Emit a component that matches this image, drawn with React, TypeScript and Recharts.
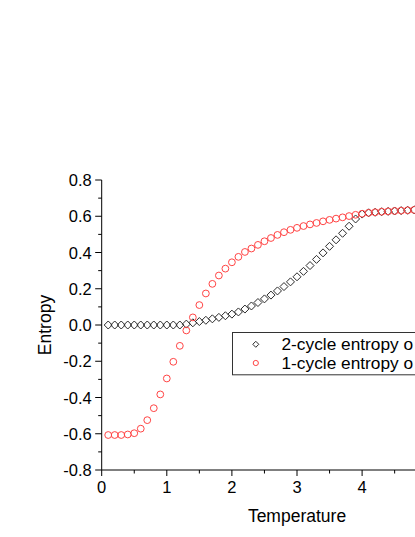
import React from 'react';
import { ScatterChart, Scatter, XAxis, YAxis } from 'recharts';

const temperature = [
  0.1, 0.2, 0.3, 0.4, 0.5, 0.6, 0.7, 0.8, 0.9, 1.0,
  1.1, 1.2, 1.3, 1.4, 1.5, 1.6, 1.7, 1.8, 1.9, 2.0,
  2.1, 2.2, 2.3, 2.4, 2.5, 2.6, 2.7, 2.8, 2.9, 3.0,
  3.1, 3.2, 3.3, 3.4, 3.5, 3.6, 3.7, 3.8, 3.9, 4.0,
  4.1, 4.2, 4.3, 4.4, 4.5, 4.6, 4.7, 4.8, 4.9,
];

const twoCycleEntropy = [
  0, 0, 0, 0, 0, 0, 0, 0, 0, 0,
  0, 0, 0.005, 0.012, 0.019, 0.026, 0.034, 0.042, 0.051, 0.06,
  0.072, 0.088, 0.105, 0.124, 0.144, 0.165, 0.188, 0.212, 0.238, 0.266,
  0.296, 0.328, 0.362, 0.398, 0.434, 0.47, 0.506, 0.545, 0.585, 0.612,
  0.619, 0.622, 0.625, 0.627, 0.629, 0.631, 0.633, 0.635, 0.636,
];

const oneCycleEntropy = [
  -0.607, -0.607, -0.607, -0.604, -0.597, -0.572, -0.525, -0.459, -0.383, -0.295,
  -0.203, -0.115, -0.03, 0.042, 0.11, 0.174, 0.227, 0.273, 0.311, 0.346,
  0.376, 0.403, 0.422, 0.442, 0.462, 0.48, 0.497, 0.512, 0.525, 0.536,
  0.546, 0.555, 0.563, 0.572, 0.58, 0.587, 0.594, 0.601, 0.608, 0.614,
  0.619, 0.622, 0.625, 0.627, 0.629, 0.631, 0.633, 0.635, 0.636,
];

const xTicks = [0, 0.5, 1, 1.5, 2, 2.5, 3, 3.5, 4, 4.5];
const yTicks = [-0.8, -0.7, -0.6, -0.5, -0.4, -0.3, -0.2, -0.1, 0, 0.1, 0.2, 0.3, 0.4, 0.5, 0.6, 0.7, 0.8];
const seriesNames = ['2-cycle entropy o', '1-cycle entropy o'];
const xTitle = 'Temperature';
const yTitle = 'Entropy';

const twoCycleData = temperature.map((t, i) => ({ t, s: twoCycleEntropy[i] }));
const oneCycleData = temperature.map((t, i) => ({ t, s: oneCycleEntropy[i] }));

const FONT = '"Liberation Sans", Arial, sans-serif';
const DIAMOND_COLOR = '#2a2a2a';
const CIRCLE_COLOR = '#ff4444';

const Diamond = (props: any) => {
  const { cx, cy } = props;
  const h = 4;
  return (
    <polygon
      points={`${cx},${cy - h} ${cx + h},${cy} ${cx},${cy + h} ${cx - h},${cy}`}
      fill="none"
      stroke={DIAMOND_COLOR}
      strokeWidth={1}
    />
  );
};

const Circle = (props: any) => {
  const { cx, cy } = props;
  return <circle cx={cx} cy={cy} r={3.4} fill="none" stroke={CIRCLE_COLOR} strokeWidth={1} />;
};

const YTick = (props: any) => {
  const { x, y, payload } = props;
  const v = payload.value;
  const major = Math.abs(Math.round(v * 10)) % 2 === 0;
  return (
    <g>
      <line x1={x} x2={x - (major ? 6.5 : 3.5)} y1={y} y2={y} stroke="#000" strokeWidth={1} />
      {major && (
        <text x={x - 10} y={y} dy={6} textAnchor="end" fontSize={16.5} fill="#000" fontFamily={FONT}>
          {v.toFixed(1)}
        </text>
      )}
    </g>
  );
};

const XTick = (props: any) => {
  const { x, y, payload } = props;
  const v = payload.value;
  const major = Number.isInteger(v);
  return (
    <g>
      <line x1={x} x2={x} y1={y} y2={y + (major ? 6 : 3.5)} stroke="#000" strokeWidth={1} />
      {major && (
        <text x={x} y={y + 23} textAnchor="middle" fontSize={16.5} fill="#000" fontFamily={FONT}>
          {String(v)}
        </text>
      )}
    </g>
  );
};

const LegendBox = () => (
  <svg
    width={260}
    height={46}
    style={{ position: 'absolute', left: 232.2, top: 332.2, overflow: 'visible' }}
  >
    <rect x={0.5} y={0.5} width={258} height={42.3} fill="#fff" stroke="#333" strokeWidth={1} />
    <polygon points="23.8,9.3 26.8,12.3 23.8,15.3 20.8,12.3" fill="none" stroke={DIAMOND_COLOR} strokeWidth={1} />
    <text x={49.5} y={18.4} fontSize={17.3} fill="#000" fontFamily={FONT}>{seriesNames[0]}</text>
    <circle cx={23.8} cy={31} r={2.6} fill="none" stroke={CIRCLE_COLOR} strokeWidth={1} />
    <text x={49.5} y={36.8} fontSize={17.3} fill="#000" fontFamily={FONT}>{seriesNames[1]}</text>
  </svg>
);

export default function App() {
  return (
    <div style={{ width: 415, height: 537, overflow: 'hidden', position: 'relative', fontFamily: FONT }}>
      <style>{'html,body{margin:0;padding:0;overflow:hidden;}'}</style>
      <ScatterChart width={528} height={530} margin={{ top: 180, right: 35.7, bottom: 8, left: 0 }}>
        <XAxis
          type="number"
          dataKey="t"
          domain={[0, 6]}
          ticks={xTicks}
          interval={0}
          tickLine={false}
          tickSize={0}
          tickMargin={0}
          height={52}
          axisLine={{ stroke: '#000', strokeWidth: 1 }}
          tick={XTick}
          label={{
            value: xTitle,
            position: 'insideBottom',
            offset: 0.3,
            style: { fontSize: 17.5, fill: '#000', fontFamily: FONT, textAnchor: 'middle' },
          }}
        />
        <YAxis
          type="number"
          dataKey="s"
          domain={[-0.8, 0.8]}
          ticks={yTicks}
          interval={0}
          width={101.7}
          tickLine={false}
          tickSize={0}
          tickMargin={0}
          axisLine={{ stroke: '#000', strokeWidth: 1 }}
          tick={YTick}
          label={{
            value: yTitle,
            angle: -90,
            position: 'insideLeft',
            offset: 44.5,
            style: { fontSize: 17.5, fill: '#000', fontFamily: FONT, textAnchor: 'middle' },
          }}
        />
        <Scatter name={seriesNames[0]} data={twoCycleData} shape={Diamond} isAnimationActive={false} />
        <Scatter name={seriesNames[1]} data={oneCycleData} shape={Circle} isAnimationActive={false} />
      </ScatterChart>
      <LegendBox />
    </div>
  );
}
